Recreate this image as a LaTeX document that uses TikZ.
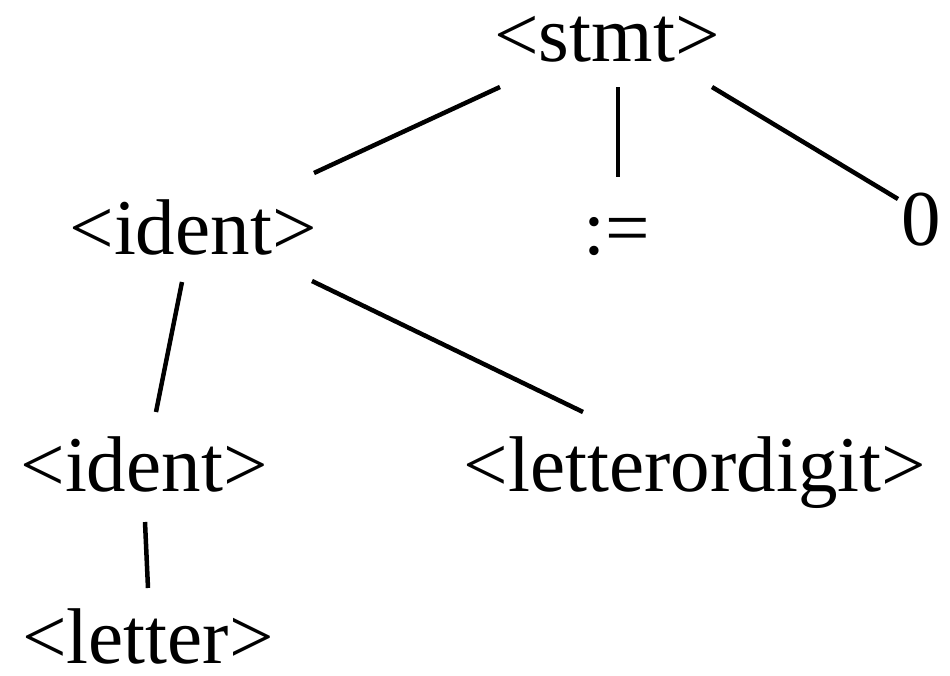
\documentclass[tikz,border=0pt]{standalone}
\usepackage{fontspec}
\setmainfont{Liberation Serif}
\usetikzlibrary{calc}
\begin{document}
\begin{tikzpicture}[x=1pt,y=-1pt,
  lbl/.style={anchor=base,inner sep=0pt,font=\fontsize{79}{90}\selectfont},
  edge/.style={line width=4.5pt}]
\useasboundingbox (0,0) rectangle (950,675);
\node[lbl] (stmt) at (607,61) {<stmt>};
\node[lbl] (ident1) at (193,254) {<ident>};
\node[lbl] (assign) at (617,254) {:=};
\node[lbl] (zero) at (921,245) {0};
\node[lbl] (ident2) at (144,491) {<ident>};
\node[lbl] (lod) at (695,491) {<letterordigit>};
\node[lbl] (letter) at (148,663) {<letter>};
\draw[edge] ($(stmt.base)+(-107,26)$) -- ($(ident1.base)+(121,-81)$);
\draw[edge] ($(stmt.base)+(11,26)$) -- ($(assign.base)+(1,-77)$);
\draw[edge] ($(stmt.base)+(105,26)$) -- ($(zero.base)+(-23,-46)$);
\draw[edge] ($(ident1.base)+(-11,28)$) -- ($(ident2.base)+(12,-79)$);
\draw[edge] ($(ident1.base)+(119,27)$) -- ($(lod.base)+(-112,-79)$);
\draw[edge] ($(ident2.base)+(1,31)$) -- ($(letter.base)+(0,-75)$);
\end{tikzpicture}
\end{document}
